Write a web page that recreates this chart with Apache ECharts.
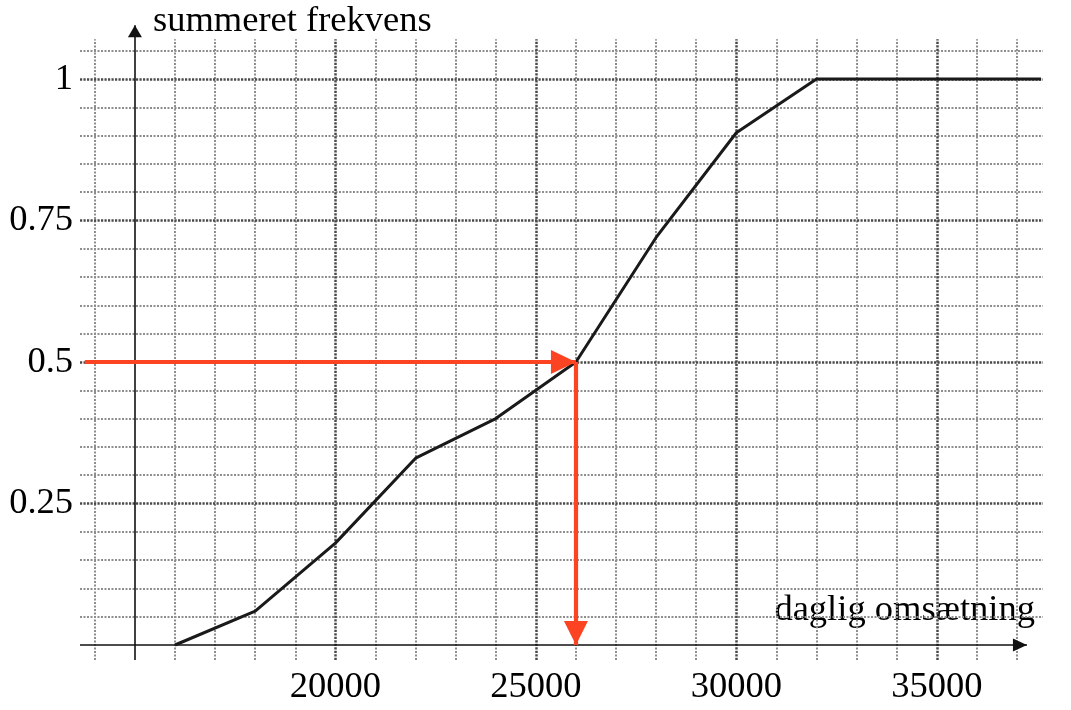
<!DOCTYPE html>
<html>
<head>
<meta charset="utf-8">
<script src="https://cdn.jsdelivr.net/npm/echarts@6/dist/echarts.min.js"></script>
<style>html,body{margin:0;padding:0;background:#fff}#c{width:1071px;height:710px}</style>
</head>
<body>
<div id="c"></div>
<script>
// ---- data ----
const xVals = [16000, 18000, 20000, 22000, 24000, 26000, 28000, 30000, 32000, 37600];
const yVals = [0, 0.06, 0.18, 0.33, 0.40, 0.50, 0.72, 0.905, 1, 1];
const medianX = 26000;
const medianY = 0.5;
const arrowStartX = 13750;
const xLabels = [20000, 25000, 30000, 35000];
const yLabels = [0.25, 0.5, 0.75, 1];
const xMajorGrid = [20000, 25000, 30000, 35000];
const xMinorGrid = [14000, 16000, 17000, 18000, 19000, 21000, 22000, 23000, 24000, 26000, 27000, 28000, 29000, 31000, 32000, 33000, 34000, 36000, 37000];
const yMajorGrid = [0.25, 0.5, 0.75, 1];
const yMinorGrid = [0.05, 0.1, 0.15, 0.2, 0.3, 0.35, 0.4, 0.45, 0.55, 0.6, 0.65, 0.7, 0.8, 0.85, 0.9, 0.95, 1.05];
const xAxisName = 'daglig omsætning';
const yAxisName = 'summeret frekvens';

// ---- view ----
const X_MIN = 13630, X_MAX = 37650, Y_MIN = -0.0265, Y_MAX = 1.113;
const Y_ORIGIN_X = 15000;
const X_ARROW_END = 37250, Y_ARROW_END = 1.095;
const GRID_Y_BOTTOM = -0.0265, GRID_Y_TOP = 1.07;
const FONT = '"Liberation Serif", "Times New Roman", serif';

const minorStyle = { color: '#8e8e8e', width: 2, type: [2, 1.5] };
const majorStyle = { color: '#4a4a4a', width: 2.5, type: [2.2, 1.3] };

function vLines(vals, style) {
  return vals.map(v => [
    { coord: [v, GRID_Y_BOTTOM], lineStyle: style },
    { coord: [v, GRID_Y_TOP] }
  ]);
}
function hLines(vals, style) {
  return vals.map(v => ({ yAxis: v, lineStyle: style }));
}

const series = [
  {
    type: 'line', data: [], z: 1,
    markLine: {
      silent: true, z: 1, animation: false, symbol: 'none', label: { show: false },
      data: [].concat(hLines(yMinorGrid, minorStyle), vLines(xMinorGrid, minorStyle),
                      hLines(yMajorGrid, majorStyle), vLines(xMajorGrid, majorStyle))
    }
  },
  {
    type: 'line', data: [], z: 2,
    markLine: {
      silent: true, z: 2, animation: false, label: { show: false },
      symbol: ['none', 'triangle'],
      lineStyle: { color: '#111', width: 1.6, type: 'solid' },
      data: [
        [{ coord: [X_MIN, 0] }, { coord: [X_ARROW_END, 0], symbolSize: [13, 14], symbolOffset: [0, 7] }],
        [{ coord: [Y_ORIGIN_X, Y_MIN] }, { coord: [Y_ORIGIN_X, Y_ARROW_END], symbolSize: [14, 12], symbolOffset: [0, 6] }]
      ]
    }
  },
  {
    type: 'line', z: 3, symbol: 'none', animation: false,
    lineStyle: { color: '#1a1a1a', width: 3 },
    data: xVals.map((x, i) => [x, yVals[i]])
  },
  {
    type: 'line', data: [], z: 4,
    markLine: {
      silent: true, z: 6, animation: false, label: { show: false },
      symbol: ['none', 'triangle'],
      lineStyle: { color: '#fc4422', width: 4.2, type: 'solid' },
      data: [
        [{ coord: [arrowStartX, medianY] }, { coord: [medianX, medianY], symbolSize: [24, 25], symbolOffset: [0, 12.5] }],
        [{ coord: [medianX, medianY] }, { coord: [medianX, 0], symbolSize: [24, 24], symbolOffset: [0, 12] }]
      ]
    }
  }
];

const chart = echarts.init(document.getElementById('c'), null, { renderer: 'canvas' });
chart.setOption({
  animation: false,
  backgroundColor: '#ffffff',
  grid: { left: 80, right: 28, top: 15, bottom: 50, containLabel: false },
  xAxis: {
    type: 'value', min: X_MIN, max: X_MAX,
    axisLine: { show: false }, axisTick: { show: false }, splitLine: { show: false },
    axisLabel: { customValues: xLabels, color: '#000', fontFamily: FONT, fontSize: 36.5, margin: 9,
                 formatter: v => String(v) }
  },
  yAxis: {
    type: 'value', min: Y_MIN, max: Y_MAX,
    axisLine: { show: false }, axisTick: { show: false }, splitLine: { show: false },
    axisLabel: { customValues: yLabels, color: '#000', fontFamily: FONT, fontSize: 36.5, margin: 7,
                 formatter: v => String(v) }
  },
  graphic: [
    { type: 'text', left: 153, top: 3, style: { text: yAxisName, font: '36.5px ' + FONT, fill: '#000' } },
    { type: 'text', right: 36, top: 592, style: { text: xAxisName, font: '36.5px ' + FONT, fill: '#000' } }
  ],
  series: series
});
</script>
</body>
</html>
